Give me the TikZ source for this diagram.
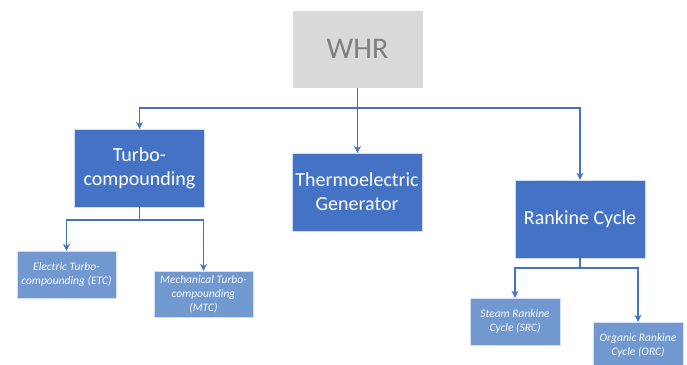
\documentclass[tikz,border=0pt]{standalone}
\usepackage{fontspec}
\setmainfont{Carlito}
\usetikzlibrary{arrows.meta}
\definecolor{mainblue}{HTML}{4472C4}
\definecolor{subblue}{HTML}{7199CF}
\definecolor{rootgray}{HTML}{D9D9D9}
\definecolor{roottext}{HTML}{7F7F7F}

\begin{document}
\begin{tikzpicture}[x=1pt,y=-1pt,
  rootbox/.style={draw=white,fill=rootgray,text=roottext,minimum width=131pt,minimum height=78pt,
    font=\fontsize{30}{34}\selectfont},
  mainbox/.style={draw=white!75!mainblue,fill=mainblue,text=white,minimum width=130pt,minimum height=78pt,
    align=center,font=\fontsize{20}{24}\selectfont},
  subbox/.style={draw=white!70!subblue,fill=subblue,text=white!92!subblue,minimum width=99pt,minimum height=47pt,
    align=center,inner sep=2pt,font=\fontsize{11.5}{14}\selectfont\itshape},
  arr/.style={draw=mainblue,line width=1.8pt,-{Stealth[length=7pt,width=7pt]}},
  link/.style={draw=mainblue,line width=1.8pt}]
  \clip (0,0) rectangle (687,364);
  \useasboundingbox (0,0) rectangle (687,364);
  % boxes
  \path (357.5,49) node[rootbox] (whr) {WHR}
  (139.5,168) node[mainbox] (turbo) {Turbo-\\compounding}
  (357,192) node[mainbox] (teg) {Thermoelectric\\Generator}
  (580,219) node[mainbox] (rankine) {Rankine Cycle}
  (66.5,274.5) node[subbox] (etc) {Electric Turbo-\\compounding (ETC)}
  (203.5,294) node[subbox,minimum height=46pt] (mtc) {Mechanical Turbo-\\compounding\\(MTC)}
  (515,321.5) node[subbox,minimum width=90pt] (src) {Steam Rankine\\Cycle (SRC)}
  (638,345.5) node[subbox,minimum width=90pt] (orc) {Organic Rankine\\Cycle (ORC)};
  % junctions
  \coordinate (hub) at (357.5,108);
  \coordinate (turbohub) at (139.5,220);
  \coordinate (rankinehub) at (580,268);
  % connectors
  \draw[link] (whr.south) -- (hub);
  \draw[arr] (hub) -| (turbo.north);
  \draw[arr] (hub) -- (hub |- teg.north);
  \draw[arr] (hub) -| (rankine.north);
  \draw[link] (turbo.south) -- (turbohub);
  \draw[arr] (turbohub) -| (etc.north);
  \draw[arr] (turbohub) -| (mtc.north);
  \draw[link] (rankine.south) -- (rankinehub);
  \draw[arr] (rankinehub) -| (src.north);
  \draw[arr] (rankinehub) -| (orc.north);
\end{tikzpicture}
\end{document}
